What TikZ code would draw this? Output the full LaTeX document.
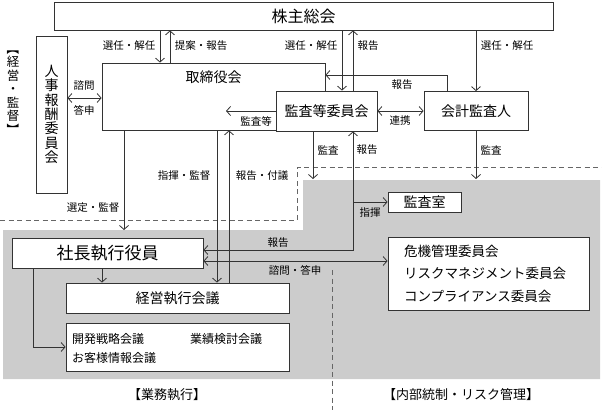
\documentclass[tikz,border=0pt]{standalone}
\usepackage{fontspec}
\usepackage{graphicx}
\setmainfont{Noto Sans CJK JP}
\usetikzlibrary{arrows.meta}

\tikzset{
  box/.style={draw=black!80, line width=0.8pt, fill=white, inner sep=0pt},
  lbl/.style={font=\fontsize{10.5}{12}\selectfont, inner sep=0pt},
  arr/.style={draw=black!80, line width=0.8pt, -{Straight Barb[length=4pt,width=9pt]}},
  arrtwo/.style={draw=black!80, line width=0.8pt, {Straight Barb[length=4pt,width=9pt]}-{Straight Barb[length=4pt,width=9pt]}},
  zone/.style={draw=black!60, line width=0.9pt, dash pattern=on 5pt off 3.5pt},
}

\begin{document}
\begin{tikzpicture}[x=1pt,y=-1pt]
		%%%%% START %%%%%
		\useasboundingbox (0,0) rectangle (602,410);
		
		\fill[black!20] (3,230) -- (303,230) -- (303,180) -- (600,180) -- (600,379) -- (3,379) -- cycle;
		\draw[zone] (0,220) -- (297,220) -- (297,167) -- (602,167);
		\draw[zone] (332,270) -- (332,410);
		
		\node[box, minimum width=499pt, minimum height=28pt, font=\fontsize{16}{16}\selectfont] (kabu) at (303.5,16) {株主総会};
		\node[box, minimum width=223pt, minimum height=67pt,
		  label={[font=\fontsize{14}{14}\selectfont, anchor=center, yshift=-15pt]north:取締役会}] (tori) at (213.5,96.5) {};
		\node[box, minimum width=101pt, minimum height=40pt, font=\fontsize{14}{14}\selectfont] (kansa) at (326.5,111) {監査等委員会};
		\node[box, minimum width=104pt, minimum height=39pt, font=\fontsize{14}{14}\selectfont] (kaikei) at (476,111) {会計監査人};
		\node[box, minimum width=31pt, minimum height=157pt, align=center, font=\fontsize{14}{14.3}\selectfont] (jinji) at (51.5,114.5) {人\\事\\報\\酬\\委\\員\\会};
		\node[align=center, inner sep=0pt, font=\fontsize{12.5}{13.5}\selectfont] (keiei-lbl) at (13,89)
		  {\rotatebox[origin=c]{-90}{【}\\経\\営\\・\\監\\督\\\rotatebox[origin=c]{-90}{】}};
		
		\node[box, minimum width=191pt, minimum height=30pt, font=\fontsize{17}{17}\selectfont] (shacho) at (107.5,253) {社長執行役員};
		\node[box, minimum width=223pt, minimum height=30pt, font=\fontsize{14}{14}\selectfont] (keiei) at (177.5,298) {経営執行会議};
		\node[box, minimum width=223pt, minimum height=48pt] (kaigi) at (177.5,347) {};
		\node[lbl, font=\fontsize{12}{12}\selectfont, anchor=west] (kaihatsu) at (72,339) {開発戦略会議};
		\node[lbl, font=\fontsize{12}{12}\selectfont, anchor=west] (gyoseki) at (190,339) {業績検討会議};
		\node[lbl, font=\fontsize{12}{12}\selectfont, anchor=west] (kyaku) at (72,358) {お客様情報会議};
		
		\node[box, minimum width=73pt, minimum height=20pt, font=\fontsize{14}{14}\selectfont] (shitsu) at (424.5,202) {監査室};
		\node[box, minimum width=201pt, minimum height=73pt, inner xsep=16pt, text width=169pt, align=left,
		  font=\fontsize{13.5}{22.5}\selectfont] (kiki) at (488.5,273.5) {危機管理委員会\\リスクマネジメント委員会\\コンプライアンス委員会};
		
		\coordinate (c1) at (160,0);
		\coordinate (c2) at (170,0);
		\coordinate (c3) at (342,0);
		\coordinate (c4) at (353,0);
		\coordinate (c5) at (447,75);
		\coordinate (c6) at (0,98);
		\coordinate (c7) at (124,230);
		\coordinate (c8) at (217,0);
		\coordinate (c9) at (229,0);
		\coordinate (c10) at (313,179);
		\coordinate (c11) at (0,250);
		\coordinate (c12) at (0,261);
		\coordinate (c13) at (476,179);
		\coordinate (c14) at (102,0);
		\coordinate (c15) at (33,0);
		\coordinate (c16) at (226,111);
		
		\draw[arr] (kabu.south -| c1) -- (tori.north -| c1);
		\draw[arr] (tori.north -| c2) -- (kabu.south -| c2);
		\draw[arr] (kabu.south -| c3) -- (kansa.north -| c3);
		\draw[arr] (kansa.north -| c4) -- (kabu.south -| c4);
		\draw[arr] (kabu.south -| kaikei.north) -- (kaikei.north);
		\draw[arr] (kaikei.north -| c5) |- (tori.east |- c5);
		\draw[arrtwo] (jinji.east |- c6) -- (tori.west |- c6);
		\draw[arr] (kansa.west) -- (c16);
		\draw[arrtwo] (kansa.east) -- (kaikei.west);
		
		\draw[arr] (tori.south -| c7) -- (c7);
		\draw[arr] (tori.south -| c8) -- (keiei.north -| c8);
		\draw[arr] (keiei.north -| c9) -- (tori.south -| c9);
		\draw[arr] (kansa.south -| c10) -- (c10);
		\draw[arrtwo] (shacho.east |- c11) -| (kansa.south -| c4);
		\draw[arr] (c4 |- shitsu.west) -- (shitsu.west);
		\draw[arrtwo] (shacho.east |- c12) -- (kiki.west |- c12);
		\draw[arr] (kaikei.south) -- (c13);
		
		\draw[arr] (shacho.south -| c14) -- (keiei.north -| c14);
		\draw[arr] (shacho.south -| c15) |- (kaigi.west);
		
		\node[lbl] (l-sennin1) at (129,46) {選任・解任};
		\node[lbl] (l-teian) at (201,46) {提案・報告};
		\node[lbl] (l-sennin2) at (311,46) {選任・解任};
		\node[lbl] (l-hokoku1) at (368,46) {報告};
		\node[lbl] (l-sennin3) at (507,46) {選任・解任};
		\node[lbl] (l-hokoku2) at (402,85) {報告};
		\node[lbl] (l-shimon) at (84,86) {諮問};
		\node[lbl] (l-toshin) at (84,110) {答申};
		\node[lbl] (l-kansato) at (256,121) {監査等};
		\node[lbl] (l-renkei) at (400,121) {連携};
		\node[lbl] (l-shiki1) at (184,176) {指揮・監督};
		\node[lbl] (l-fugi) at (262,176) {報告・付議};
		\node[lbl] (l-sentei) at (93,208) {選定・監督};
		\node[lbl] (l-kansa1) at (328,150) {監査};
		\node[lbl] (l-hokoku3) at (367,150) {報告};
		\node[lbl] (l-kansa2) at (491,150) {監査};
		\node[lbl] (l-shiki2) at (370,213) {指揮};
		\node[lbl] (l-hokoku4) at (278,243) {報告};
		\node[lbl] (l-shimon2) at (295,270) {諮問・答申};
		
		\node[lbl, font=\fontsize{13}{13}\selectfont] (gyomu) at (167,395) {【業務執行】};
		\node[lbl, font=\fontsize{13}{13}\selectfont] (naibu) at (461,395) {【内部統制・リスク管理】};
		%%%%% END %%%%%
	\end{tikzpicture}
\end{document}
